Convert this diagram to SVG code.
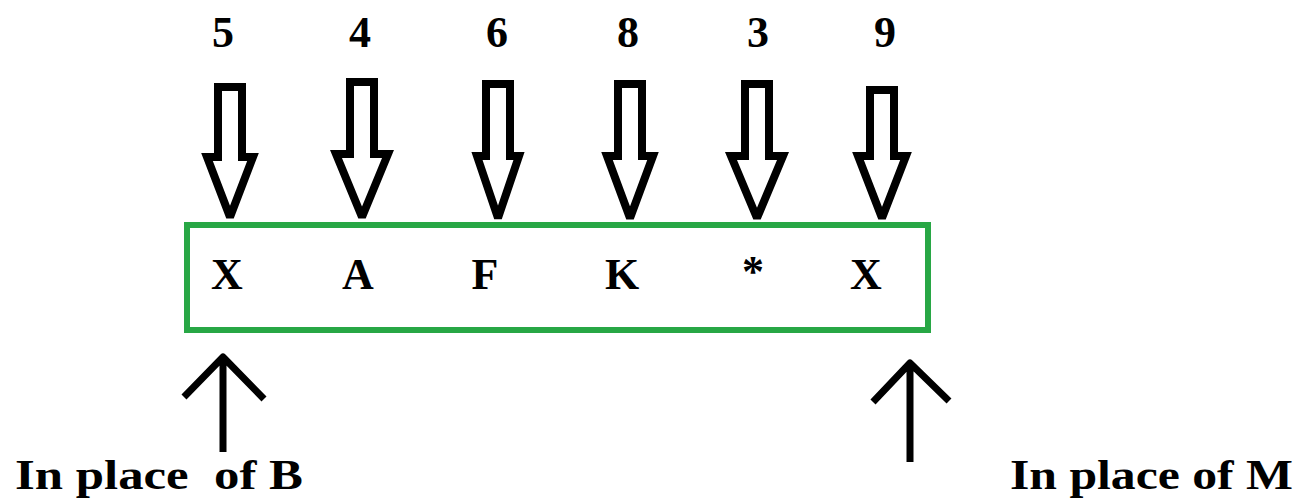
<svg xmlns="http://www.w3.org/2000/svg" width="1312" height="502" viewBox="0 0 1312 502">
<style>
.t{font-family:"Liberation Serif","Times New Roman",serif;font-weight:bold;fill:#000;text-anchor:middle}
.num{font-size:44px}
.let{font-size:44px}
.lbl{font-size:43px;text-anchor:start}
.blk{fill:#fff;stroke:#000;stroke-width:8;stroke-linejoin:miter;stroke-miterlimit:2}
.up{fill:none;stroke:#000;stroke-width:7;stroke-linecap:butt;stroke-linejoin:round}
</style>
<rect width="1312" height="502" fill="#fff"/>
<g id="box">
<rect x="187" y="225" width="741" height="105" fill="#fff" stroke="#28a745" stroke-width="6"/>
<text class="t let" x="227" y="289">X</text>
<text class="t let" x="358" y="289">A</text>
<text class="t let" x="485" y="289">F</text>
<text class="t let" x="622" y="289">K</text>
<text class="t let" x="753" y="286">*</text>
<text class="t let" x="866" y="289">X</text>
</g>
<g id="numbers">
<text class="t num" x="223" y="47">5</text>
<text class="t num" x="360" y="47">4</text>
<text class="t num" x="497" y="47">6</text>
<text class="t num" x="628" y="47">8</text>
<text class="t num" x="758" y="47">3</text>
<text class="t num" x="885" y="47">9</text>
</g>
<g id="connectors">
<polygon class="blk" points="218,87 242,87 242,157 253,157 230,217 207,157 218,157"/>
<polygon class="blk" points="350,82 374,82 374,154 388,154 362,217 336,154 350,154"/>
<polygon class="blk" points="486,84 510,84 510,156 519,156 498,218 477,156 486,156"/>
<polygon class="blk" points="618,84 642,84 642,156 653,156 630,218 607,156 618,156"/>
<polygon class="blk" points="745,84 769,84 769,156 783,156 757,218 731,156 745,156"/>
<polygon class="blk" points="870,90 894,90 894,156 906,156 882,218 858,156 870,156"/>
<path class="up" d="M223,452 V358 M184,397 L223,357 L264,399"/>
<path class="up" d="M910,462 V365 M873,402 L910,363 L949,401"/>
</g>
<g id="label-b">
<text class="t lbl" x="15" y="489" xml:space="preserve" textLength="288" lengthAdjust="spacingAndGlyphs">In place  of B</text>
</g>
<g id="label-m">
<text class="t lbl" x="1010" y="489" textLength="283" lengthAdjust="spacingAndGlyphs">In place of M</text>
</g>
</svg>
